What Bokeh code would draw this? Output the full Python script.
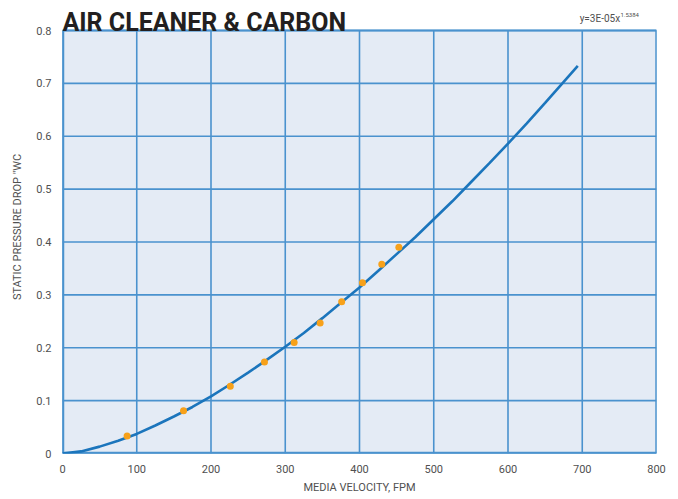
from bokeh.plotting import figure
from bokeh.models import Label, FixedTicker, NumeralTickFormatter, Range1d
from bokeh.embed import file_html
from bokeh.resources import INLINE

# data
velocity = [87, 163, 226, 272, 312, 347, 376, 404, 430, 453]
pressure = [0.033, 0.081, 0.127, 0.173, 0.210, 0.247, 0.287, 0.323, 0.358, 0.390]

trend_x = [0, 25, 50, 75, 100, 125, 150, 175, 200, 225, 250, 275, 300, 325, 350, 375,
           400, 425, 450, 475, 500, 525, 550, 575, 600, 625, 650, 675, 694]
trend_y = [0, 0.004, 0.013, 0.024, 0.037, 0.053, 0.070, 0.088, 0.108, 0.130, 0.153, 0.177,
           0.202, 0.228, 0.256, 0.285, 0.314, 0.345, 0.377, 0.409, 0.443, 0.477, 0.513,
           0.549, 0.586, 0.624, 0.663, 0.703, 0.733]

x_ticks = [0, 100, 200, 300, 400, 500, 600, 700, 800]
y_ticks = [0, 0.1, 0.2, 0.3, 0.4, 0.5, 0.6, 0.7, 0.8]

title_text = "AIR CLEANER & CARBON"
equation_text = "y=3E-05x"
equation_exp = "1.5384"
x_label = "MEDIA VELOCITY, FPM"
y_label = "STATIC PRESSURE DROP \"WC"

FONT = "Roboto"
GRID = "#4A92CE"
BG = "#E4EBF5"
CURVE = "#1B75BC"
DOT = "#F7A11A"
TXT = "#505050"

x_min, x_max = x_ticks[0], x_ticks[-1]
y_min, y_max = y_ticks[0], y_ticks[-1]
# the frame reaches up to the top of the canvas so the heading sits inside it
y_top = y_max * 453 / 423

p = figure(frame_width=594, frame_height=453, output_backend="svg", toolbar_location=None,
           x_range=Range1d(x_min, x_max), y_range=Range1d(y_min, y_top),
           min_border_left=62, min_border_right=14, min_border_top=0, min_border_bottom=36)

p.background_fill_color = "white"
p.border_fill_color = "white"
p.outline_line_color = None
p.grid.visible = False

# plot area background
p.quad(left=[x_min], right=[x_max], bottom=[y_min], top=[y_max],
       fill_color=BG, line_color=None)

# grid lines
p.segment(x0=x_ticks, y0=[y_min] * len(x_ticks), x1=x_ticks, y1=[y_max] * len(x_ticks),
          line_color=GRID, line_width=1.6)
p.segment(x0=[x_min] * len(y_ticks), y0=y_ticks, x1=[x_max] * len(y_ticks), y1=y_ticks,
          line_color=GRID, line_width=1.6)
# plot area border
p.line([x_min, x_min, x_max, x_max, x_min], [y_min, y_max, y_max, y_min, y_min],
       line_color=GRID, line_width=2.2)
p.segment(x0=[x_min, x_min], y0=[y_min, y_min], x1=[x_min, x_max], y1=[y_max, y_min],
          line_color=GRID, line_width=3.5)

p.xaxis.ticker = FixedTicker(ticks=x_ticks)
p.yaxis.ticker = FixedTicker(ticks=y_ticks)
p.yaxis.formatter = NumeralTickFormatter(format="0.[0]")

for ax in (p.xaxis[0], p.yaxis[0]):
    ax.axis_line_color = None
    ax.major_tick_line_color = None
    ax.minor_tick_line_color = None
    ax.major_tick_out = 0
    ax.major_tick_in = 0
    ax.minor_tick_out = 0
    ax.minor_tick_in = 0
    ax.major_label_text_font = FONT
    ax.major_label_text_font_size = "11px"
    ax.major_label_text_color = TXT
    ax.axis_label_text_font = FONT
    ax.axis_label_text_font_size = "11px"
    ax.axis_label_text_font_style = "normal"
    ax.axis_label_text_color = TXT

p.xaxis.axis_label = x_label
p.yaxis.axis_label = y_label
p.xaxis.major_label_standoff = 11
p.xaxis.axis_label_standoff = 5
p.yaxis.major_label_standoff = 11
p.yaxis.axis_label_standoff = 9

p.line(trend_x, trend_y, line_color=CURVE, line_width=2.6)
p.scatter(velocity, pressure, size=7, fill_color=DOT, line_color=None)

p.add_layout(Label(x=0, y=0.8157, text=title_text, text_font=FONT,
                   text_font_style="bold", text_font_size="25px", text_color="#231F20",
                   text_baseline="alphabetic", text_align="left"))
p.add_layout(Label(x=751, y=0.8233, text=equation_text, text_font=FONT,
                   text_font_size="10px", text_color=TXT,
                   text_baseline="alphabetic", text_align="right"))
p.add_layout(Label(x=751.5, y=0.8284, text=equation_exp, text_font=FONT,
                   text_font_size="6px", text_color=TXT,
                   text_baseline="alphabetic", text_align="left"))

open("out.html", "w").write(file_html(p, INLINE))
